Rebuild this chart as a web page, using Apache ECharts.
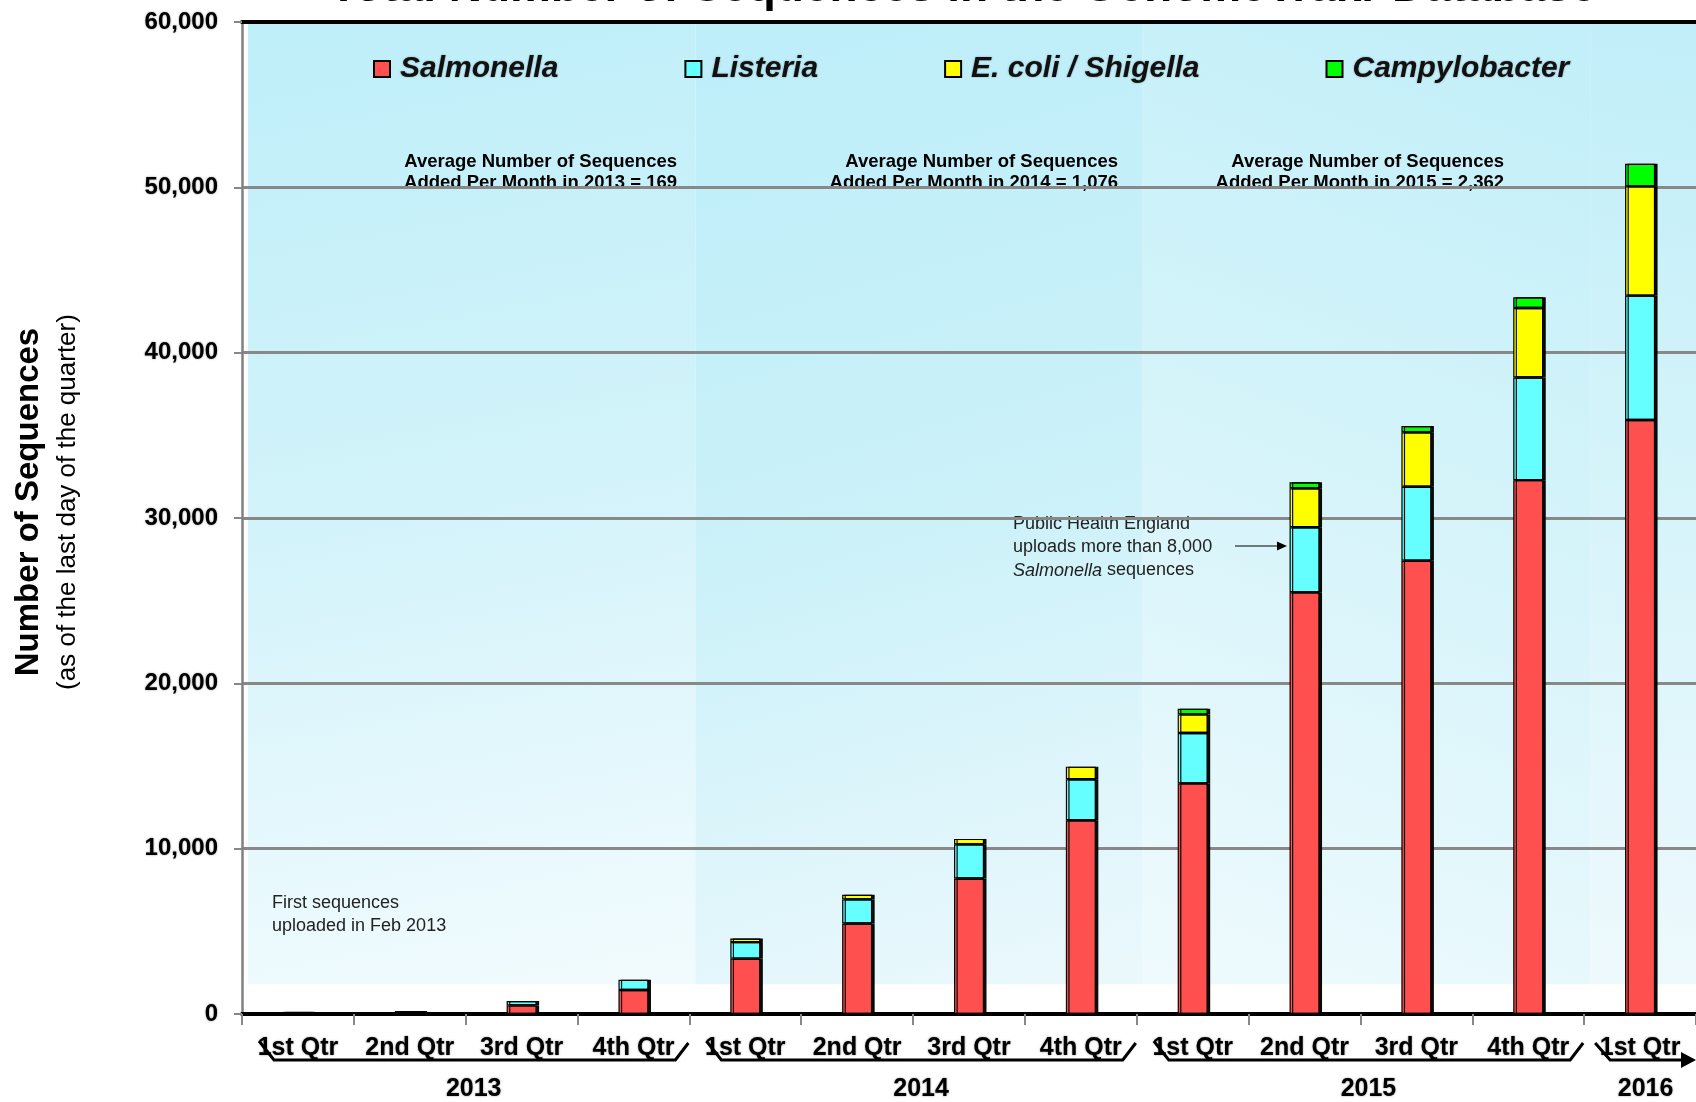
<!DOCTYPE html>
<html><head><meta charset="utf-8">
<script src="https://cdn.jsdelivr.net/npm/echarts@6/dist/echarts.min.js"></script>
<style>html,body{margin:0;padding:0;background:#fff}#c{width:1696px;height:1102px}</style>
</head><body><div id="c"></div>
<script>
// ---------------- data ----------------
const categories = ['2013 Q1','2013 Q2','2013 Q3','2013 Q4','2014 Q1','2014 Q2','2014 Q3','2014 Q4','2015 Q1','2015 Q2','2015 Q3','2015 Q4','2016 Q1'];
const quarterLabels = ['1st Qtr','2nd Qtr','3rd Qtr','4th Qtr','1st Qtr','2nd Qtr','3rd Qtr','4th Qtr','1st Qtr','2nd Qtr','3rd Qtr','4th Qtr','1st Qtr'];
const seriesNames = ['Salmonella','Listeria','E. coli / Shigella','Campylobacter'];
const salmonella = [130, 140, 520, 1450, 3350, 5470, 8200, 11720, 13950, 25510, 27410, 32290, 35930];
const listeria   = [0, 20, 260, 620, 1000, 1460, 2060, 2480, 3050, 3930, 4480, 6210, 7520];
const ecoli      = [0, 0, 0, 0, 220, 280, 330, 760, 1120, 2360, 3300, 4200, 6610];
const campy      = [0, 0, 0, 0, 0, 0, 0, 0, 340, 360, 370, 650, 1360];
const years      = ['2013','2014','2015','2016'];
const yearFirstQtr = [0, 4, 8, 12];
const yearLastQtr  = [3, 7, 11, 12];
const yMin = 0, yMax = 60000, yStep = 10000;
const titleText = 'Total Number of Sequences in the GenomeTrakr Database';
const avgNotes = ['Average Number of Sequences\nAdded Per Month in 2013 = 169',
                  'Average Number of Sequences\nAdded Per Month in 2014 = 1,076',
                  'Average Number of Sequences\nAdded Per Month in 2015 = 2,362'];
const pheNote = ['Public Health England', 'uploads more than 8,000', '{i|Salmonella} sequences'];
const firstNote = 'First sequences\nuploaded in Feb 2013';

// ---------------- chart ----------------
const FONT = '"Liberation Sans", Arial, Helvetica, sans-serif';
const chart = echarts.init(document.getElementById('c'), null, {renderer: 'canvas'});
const colors = ['#FF5050', '#66FFFF', '#FFFF00', '#00FF00'];
const values = [salmonella, listeria, ecoli, campy];
const yearSpans = years.map((y, i) => [yearFirstQtr[i] - 0.5, yearLastQtr[i] + 0.5]);

const panelGrad = [
  [0.3, 0, 0.7, 1, ['#bfeff9', '#d3f3fa', '#f1fbfe']],
  [0.2, 0, 0.8, 1, ['#bdeef9', '#cbf1f9', '#eaf8fc']],
  [0.9, 0, 0.1, 1, ['#c2eff9', '#d6f4fa', '#eefafd']],
  [1, 0, 0, 1, ['#c0eef9', '#d6f4fa', '#eef9fd']]
];

const barSeries = seriesNames.map((n, k) => ({
  name: n, type: 'bar', stack: 'total', barWidth: 30, z: 4,
  xAxisIndex: 0, yAxisIndex: 0,
  data: values[k].map(v => v === 0 ? '-' : v),
  itemStyle: {color: colors[k], borderColor: '#000', borderWidth: 1.2,
    shadowColor: 'rgba(0,0,0,0.95)', shadowOffsetX: 2.5, shadowOffsetY: 0, shadowBlur: 0},
  emphasis: {disabled: true}
}));

const labelShadow = {textShadowColor: 'rgba(0,0,0,0.45)', textShadowBlur: 2};

const option = {
  animation: false,
  backgroundColor: '#fff',
  grid: {left: 242, right: 0, top: 22, bottom: 88, containLabel: false},
  legend: {
    data: seriesNames, left: 373, top: 54, padding: 0,
    icon: 'rect', itemWidth: 16, itemHeight: 16, itemGap: 126,
    itemStyle: {borderColor: '#000', borderWidth: 2, shadowBlur: 0, shadowOffsetX: 0},
    textStyle: {fontFamily: FONT, fontSize: 30, fontStyle: 'italic', fontWeight: 'bold', color: '#111',
      padding: [0, 0, 0, 5], textShadowColor: 'rgba(0,0,0,0.35)', textShadowBlur: 2}
  },
  xAxis: [
    {type: 'category', data: categories, position: 'bottom', boundaryGap: true,
      axisLine: {show: true, onZero: false, lineStyle: {color: '#000', width: 4}},
      axisTick: {show: true, alignWithLabel: false, length: 11, lineStyle: {color: '#888', width: 2}},
      axisLabel: Object.assign({interval: 0, margin: 22, fontFamily: FONT, fontSize: 25, fontWeight: 'bold', color: '#000',
        formatter: (v, i) => quarterLabels[i]}, labelShadow),
      splitLine: {show: false}},
    {type: 'value', position: 'top', min: -0.5, max: categories.length - 0.5,
      axisLine: {show: true, onZero: false, lineStyle: {color: '#000', width: 4}},
      axisTick: {show: false}, axisLabel: {show: false}, splitLine: {show: false}}
  ],
  yAxis: {type: 'value', min: yMin, max: yMax, interval: yStep,
    axisLine: {show: true, onZero: false, lineStyle: {color: '#808080', width: 2.5}},
    axisTick: {show: true, length: 8, lineStyle: {color: '#888', width: 2}},
    axisLabel: Object.assign({margin: 24, fontFamily: FONT, fontSize: 24, fontWeight: 'bold', color: '#000',
      formatter: v => v.toLocaleString('en-US')}, labelShadow),
    splitLine: {show: true, lineStyle: {color: '#888', width: 3}}},
  series: [
    {
      type: 'custom', name: 'panels', xAxisIndex: 1, yAxisIndex: 0, z: -2, silent: true,
      data: yearSpans,
      renderItem: (params, api) => {
        const i = params.dataIndex;
        const a = api.coord([api.value(0), yMax]);
        const b = api.coord([api.value(1), 1800]);
        const x0 = a[0] + 6, x1 = b[0] + 6;
        const g = panelGrad[i];
        return {type: 'rect', shape: {x: x0, y: a[1], width: x1 - x0, height: b[1] - a[1]},
          style: {fill: new echarts.graphic.LinearGradient(g[0], g[1], g[2], g[3], [
            {offset: 0, color: g[4][0]}, {offset: 0.5, color: g[4][1]}, {offset: 1, color: g[4][2]}])}};
      }
    },
    {
      type: 'custom', name: 'brackets', xAxisIndex: 1, yAxisIndex: 0, z: 10, silent: true, clip: false,
      data: yearSpans,
      renderItem: (params, api) => {
        const i = params.dataIndex;
        const L = api.coord([api.value(0), 0]);
        const R = api.coord([api.value(1), 0]);
        const y = L[1];
        const children = [];
        let cx;
        if (i < years.length - 1) {
          children.push({type: 'polyline', shape: {points: [[L[0] + 17, y + 27], [L[0] + 32, y + 46], [R[0] - 14, y + 46], [R[0] - 1, y + 29]]},
            style: {stroke: '#000', lineWidth: 3, fill: null}});
          cx = (L[0] + 17 + R[0] - 1) / 2;
        } else {
          children.push({type: 'polyline', shape: {points: [[L[0] + 11, y + 29], [L[0] + 26, y + 46], [R[0] - 12, y + 46]]},
            style: {stroke: '#000', lineWidth: 3, fill: null}});
          children.push({type: 'polygon', shape: {points: [[R[0] - 15, y + 38], [R[0], y + 46], [R[0] - 15, y + 54]]},
            style: {fill: '#000'}});
          cx = (L[0] + 11 + R[0]) / 2;
        }
        children.push({type: 'text', x: cx, y: y + 75, style: {text: years[i], fontFamily: FONT, fontSize: 25, fontWeight: 'bold',
          fill: '#000', align: 'center', verticalAlign: 'middle', textShadowColor: 'rgba(0,0,0,0.45)', textShadowBlur: 2}});
        return {type: 'group', children};
      }
    }
  ].concat(barSeries),
  graphic: [
    {type: 'text', x: 963, y: -12, z: 5, style: {text: titleText, font: 'bold 46px ' + FONT, fill: '#000',
      textAlign: 'center', textVerticalAlign: 'middle'}},
    {type: 'text', x: 29, y: 502, rotation: Math.PI / 2, style: {text: 'Number of Sequences', font: 'bold 33px ' + FONT,
      fill: '#000', textAlign: 'center', textVerticalAlign: 'middle'}},
    {type: 'text', x: 68, y: 502, rotation: Math.PI / 2, style: {text: '(as of the last day of the quarter)', font: '26px ' + FONT,
      fill: '#000', textAlign: 'center', textVerticalAlign: 'middle'}},
    {type: 'text', x: 677, y: 151, z: -1, style: {text: avgNotes[0], font: 'bold 18.5px ' + FONT, fill: '#000', lineHeight: 21,
      textAlign: 'right', textVerticalAlign: 'top'}},
    {type: 'text', x: 1118, y: 151, z: -1, style: {text: avgNotes[1], font: 'bold 18.5px ' + FONT, fill: '#000', lineHeight: 21,
      textAlign: 'right', textVerticalAlign: 'top'}},
    {type: 'text', x: 1504, y: 151, z: -1, style: {text: avgNotes[2], font: 'bold 18.5px ' + FONT, fill: '#000', lineHeight: 21,
      textAlign: 'right', textVerticalAlign: 'top'}},
    {type: 'text', x: 1013, y: 513, z: -1, style: {text: pheNote.join('\n'), font: '18px ' + FONT, fill: '#222', lineHeight: 23,
      textAlign: 'left', textVerticalAlign: 'top', rich: {i: {fontStyle: 'italic', fontSize: 18, fontFamily: FONT, fill: '#222', lineHeight: 23}}}},
    {type: 'text', x: 272, y: 892, z: -1, style: {text: firstNote, font: '18px ' + FONT, fill: '#222', lineHeight: 23,
      textAlign: 'left', textVerticalAlign: 'top'}},
    {type: 'line', shape: {x1: 1235, y1: 546, x2: 1278, y2: 546}, style: {stroke: '#000', lineWidth: 1}},
    {type: 'polygon', shape: {points: [[1277, 541.5], [1287, 546], [1277, 550.5]]}, style: {fill: '#000'}}
  ]
};
chart.setOption(option);
</script></body></html>
